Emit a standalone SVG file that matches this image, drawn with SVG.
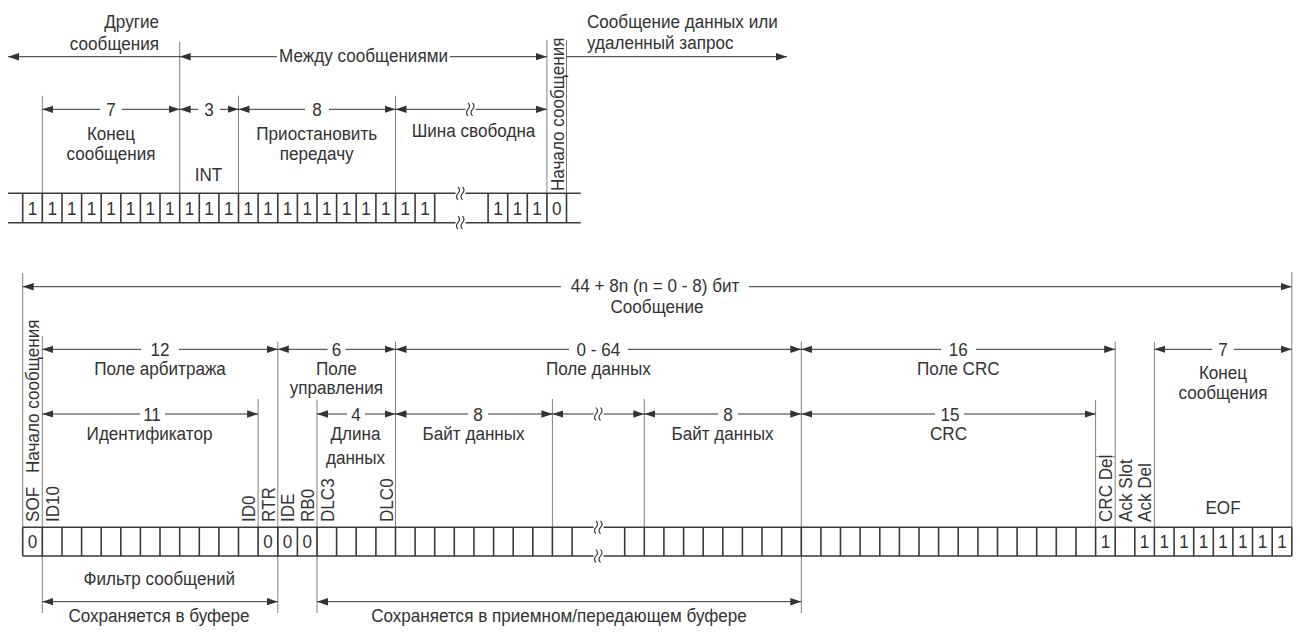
<svg xmlns="http://www.w3.org/2000/svg" width="1300" height="632" viewBox="0 0 1300 632">
<defs>
<style>
text{font-family:"Liberation Sans",Arial,Helvetica,sans-serif;font-size:19px;fill:#333}
.m{text-anchor:middle}
.e{text-anchor:end}
.g{stroke:#808080;stroke-width:1;fill:none}
.a{stroke:#333;stroke-width:1;fill:none;marker-end:url(#ah)}
.b{stroke:#333;stroke-width:1;fill:none;marker-start:url(#ah)}
.ab{stroke:#333;stroke-width:1;fill:none;marker-start:url(#ah);marker-end:url(#ah)}
.row{stroke:#3a3a3a;stroke-width:1.6;fill:none}
.sqs{stroke:#333;stroke-width:1.1;fill:none}
</style>
<marker id="ah" viewBox="0 0 11 8" refX="11" refY="4" markerWidth="11" markerHeight="8" markerUnits="userSpaceOnUse" orient="auto-start-reverse"><path d="M0,0.3L11,4L0,7.7z" fill="#333"/></marker>
<g id="sq"><rect x="-4.5" y="-2" width="10" height="4" fill="#fff"/><path class="sqs" d="M-2,-6.5q3,3.25 0,6.5q-3,3.25 0,6.5M2.5,-6.5q3,3.25 0,6.5q-3,3.25 0,6.5"/></g>
</defs>
<rect width="1300" height="632" fill="#fff"/>

<g id="guides">
<path class="g" d="M42.3,95.7V193.3M179.7,41.7V193.3M238.5,95.7V193.3M395.5,95.7V193.3M546.9,40V193.3M566.5,40V193.3"/>
<path class="g" d="M22.7,273V527.3M42.3,336V613M258.1,399V527.3M277.8,341.7V613M317,400V613M395.5,341.7V527.3M552.4,399V527.3M644.3,399V527.3M801.3,341.7V613M1095.6,400V527.3M1115.2,341.7V527.3M1154.4,341.7V527.3M1291.8,272V527.3M1095.6,456.7H1115.2"/>
</g>

<g id="connectors">
<path class="b" d="M8,56.7H179.7"/>
<path class="b" d="M179.7,56.7H277"/>
<path class="a" d="M450,56.7H546.9"/>
<path class="a" d="M566.5,56.7H787"/>
<path class="b" d="M42.3,109.3H100"/><path class="a" d="M122,109.3H179.7"/>
<path class="b" d="M179.7,109.3H198"/><path class="a" d="M220,109.3H238.5"/>
<path class="b" d="M238.5,109.3H305"/><path class="a" d="M329,109.3H395.5"/>
<path class="ab" d="M395.5,109.3H546.9"/>
<use href="#sq" x="470" y="109.3"/>

<path class="b" d="M22.7,286.7H561"/><path class="a" d="M749,286.7H1291.8"/>
<path class="b" d="M42.3,349.3H141"/><path class="a" d="M179,349.3H277.8"/>
<path class="b" d="M277.8,349.3H327.6"/><path class="a" d="M345.6,349.3H395.5"/>
<path class="b" d="M395.5,349.3H569"/><path class="a" d="M628,349.3H801.3"/>
<path class="b" d="M801.3,349.3H941"/><path class="a" d="M976,349.3H1115.2"/>
<path class="b" d="M1154.4,349.3H1212"/><path class="a" d="M1234,349.3H1291.8"/>
<path class="b" d="M42.3,414H140"/><path class="a" d="M165,414H258.1"/>
<path class="b" d="M317,414H347"/><path class="a" d="M365,414H395.5"/>
<path class="b" d="M395.5,414H468"/><path class="a" d="M488,414H552.4"/>
<path class="ab" d="M552.4,414H644.3"/>
<use href="#sq" x="598" y="414"/>
<path class="b" d="M644.3,414H718"/><path class="a" d="M738,414H801.3"/>
<path class="b" d="M801.3,414H935"/><path class="a" d="M964,414H1095.6"/>
<path class="ab" d="M42.3,601.7H277.8"/>
<path class="ab" d="M317,601.7H801.3"/>
</g>

<g id="top-row">
<path class="row" d="M8,193.3H580.7M8,222.7H580.7"/>
<path class="row" d="M22.7,193.3V222.7M42.3,193.3V222.7M62,193.3V222.7M81.6,193.3V222.7M101.2,193.3V222.7M120.8,193.3V222.7M140.4,193.3V222.7M160,193.3V222.7M179.7,193.3V222.7M199.3,193.3V222.7M218.9,193.3V222.7M238.5,193.3V222.7M258.1,193.3V222.7M277.8,193.3V222.7M297.4,193.3V222.7M317,193.3V222.7M336.6,193.3V222.7M356.2,193.3V222.7M375.9,193.3V222.7M395.5,193.3V222.7M415.1,193.3V222.7M434.7,193.3V222.7M488.1,193.3V222.7M507.7,193.3V222.7M527.3,193.3V222.7M546.9,193.3V222.7M566.5,193.3V222.7"/>
<use href="#sq" x="460" y="193.3"/>
<use href="#sq" x="460" y="222.7"/>
<g class="m">
<text transform="translate(32.5,215) scale(.9 1)">1</text>
<text transform="translate(52.2,215) scale(.9 1)">1</text>
<text transform="translate(71.8,215) scale(.9 1)">1</text>
<text transform="translate(91.4,215) scale(.9 1)">1</text>
<text transform="translate(111,215) scale(.9 1)">1</text>
<text transform="translate(130.6,215) scale(.9 1)">1</text>
<text transform="translate(150.2,215) scale(.9 1)">1</text>
<text transform="translate(169.8,215) scale(.9 1)">1</text>
<text transform="translate(189.5,215) scale(.9 1)">1</text>
<text transform="translate(209.1,215) scale(.9 1)">1</text>
<text transform="translate(228.7,215) scale(.9 1)">1</text>
<text transform="translate(248.3,215) scale(.9 1)">1</text>
<text transform="translate(267.9,215) scale(.9 1)">1</text>
<text transform="translate(287.6,215) scale(.9 1)">1</text>
<text transform="translate(307.2,215) scale(.9 1)">1</text>
<text transform="translate(326.8,215) scale(.9 1)">1</text>
<text transform="translate(346.4,215) scale(.9 1)">1</text>
<text transform="translate(366,215) scale(.9 1)">1</text>
<text transform="translate(385.7,215) scale(.9 1)">1</text>
<text transform="translate(405.3,215) scale(.9 1)">1</text>
<text transform="translate(424.9,215) scale(.9 1)">1</text>
<text transform="translate(497.9,215) scale(.9 1)">1</text>
<text transform="translate(517.5,215) scale(.9 1)">1</text>
<text transform="translate(537.1,215) scale(.9 1)">1</text>
<text transform="translate(556.7,215) scale(.9 1)">0</text>
</g>
</g>

<g id="top-other-messages">
<text class="e" transform="translate(159,28) scale(.9 1)">Другие</text>
<text class="e" transform="translate(159,50) scale(.9 1)">сообщения</text>
</g>
<g id="top-between-messages">
<text class="m" transform="translate(363.5,62) scale(.9 1)">Между сообщениями</text>
</g>
<g id="top-data-or-remote">
<text transform="translate(587,28) scale(.9 1)">Сообщение данных или</text>
<text transform="translate(587,49) scale(.9 1)">удаленный запрос</text>
</g>
<g id="top-eof">
<text class="m" transform="translate(111,116) scale(.9 1)">7</text>
<text class="m" transform="translate(111,140) scale(.9 1)">Конец</text>
<text class="m" transform="translate(111,160) scale(.9 1)">сообщения</text>
</g>
<g id="top-int">
<text class="m" transform="translate(209,116) scale(.9 1)">3</text>
<text class="m" transform="translate(208.5,181) scale(.9 1)">INT</text>
</g>
<g id="top-suspend">
<text class="m" transform="translate(317,116) scale(.9 1)">8</text>
<text class="m" transform="translate(316.7,140) scale(.9 1)">Приостановить</text>
<text class="m" transform="translate(316.7,160) scale(.9 1)">передачу</text>
</g>
<g id="top-bus-idle">
<text class="m" transform="translate(473.5,137) scale(.9 1)">Шина свободна</text>
</g>
<g id="top-sof">
<text transform="translate(563.5,191) rotate(-90) scale(.9 1)">Начало сообщения</text>
</g>

<g id="message">
<text class="m" transform="translate(655,292) scale(.9 1)">44 + 8n (n = 0 - 8) бит</text>
<text class="m" transform="translate(657,313) scale(.9 1)">Сообщение</text>
</g>
<g id="sof">
<text transform="translate(39.3,473) rotate(-90) scale(.9 1)">Начало сообщения</text>
<text transform="translate(39.3,522) rotate(-90) scale(.9 1)">SOF</text>
</g>
<g id="arbitration">
<text class="m" transform="translate(160,356) scale(.9 1)">12</text>
<text class="m" transform="translate(160,375) scale(.9 1)">Поле арбитража</text>
</g>
<g id="identifier">
<text class="m" transform="translate(152,421) scale(.9 1)">11</text>
<text class="m" transform="translate(149.5,440) scale(.9 1)">Идентификатор</text>
<text transform="translate(59,522) rotate(-90) scale(.9 1)">ID10</text>
<text transform="translate(255.1,522) rotate(-90) scale(.9 1)">ID0</text>
<text transform="translate(274.7,522) rotate(-90) scale(.9 1)">RTR</text>
</g>
<g id="control">
<text class="m" transform="translate(336.6,356) scale(.9 1)">6</text>
<text class="m" transform="translate(336.4,375) scale(.9 1)">Поле</text>
<text class="m" transform="translate(336.4,394) scale(.9 1)">управления</text>
<text transform="translate(294.4,522) rotate(-90) scale(.9 1)">IDE</text>
<text transform="translate(314,522) rotate(-90) scale(.9 1)">RB0</text>
</g>
<g id="dlc">
<text class="m" transform="translate(356,421) scale(.9 1)">4</text>
<text class="m" transform="translate(355.5,440) scale(.9 1)">Длина</text>
<text class="m" transform="translate(355.5,464) scale(.9 1)">данных</text>
<text transform="translate(333.6,522) rotate(-90) scale(.9 1)">DLC3</text>
<text transform="translate(392.5,522) rotate(-90) scale(.9 1)">DLC0</text>
</g>
<g id="data-field">
<text class="m" transform="translate(598.4,356) scale(.9 1)">0 - 64</text>
<text class="m" transform="translate(598.3,375) scale(.9 1)">Поле данных</text>
</g>
<g id="data-byte-1">
<text class="m" transform="translate(478,421) scale(.9 1)">8</text>
<text class="m" transform="translate(473.6,440) scale(.9 1)">Байт данных</text>
</g>
<g id="data-byte-n">
<text class="m" transform="translate(728,421) scale(.9 1)">8</text>
<text class="m" transform="translate(722.5,440) scale(.9 1)">Байт данных</text>
</g>
<g id="crc-field">
<text class="m" transform="translate(958.3,356) scale(.9 1)">16</text>
<text class="m" transform="translate(958.3,375) scale(.9 1)">Поле CRC</text>
</g>
<g id="crc">
<text class="m" transform="translate(950,421) scale(.9 1)">15</text>
<text class="m" transform="translate(948.5,440) scale(.9 1)">CRC</text>
<text transform="translate(1112.2,522) rotate(-90) scale(.9 1)">CRC Del</text>
</g>
<g id="ack">
<text transform="translate(1131.8,522) rotate(-90) scale(.9 1)">Ack Slot</text>
<text transform="translate(1151.4,522) rotate(-90) scale(.9 1)">Ack Del</text>
</g>
<g id="eof">
<text class="m" transform="translate(1223,356) scale(.9 1)">7</text>
<text class="m" transform="translate(1223,379) scale(.9 1)">Конец</text>
<text class="m" transform="translate(1223,399) scale(.9 1)">сообщения</text>
<text class="m" transform="translate(1223,514) scale(.9 1)">EOF</text>
</g>

<g id="bottom-row">
<path class="row" d="M22.7,527.3H1291.8M22.7,556H1291.8"/>
<path class="row" d="M22.7,527.3V556M42.3,527.3V556M62,527.3V556M81.6,527.3V556M101.2,527.3V556M120.8,527.3V556M140.4,527.3V556M160,527.3V556M179.7,527.3V556M199.3,527.3V556M218.9,527.3V556M238.5,527.3V556M258.1,527.3V556M277.8,527.3V556M297.4,527.3V556M317,527.3V556M336.6,527.3V556M356.2,527.3V556M375.9,527.3V556M395.5,527.3V556M415.1,527.3V556M434.7,527.3V556M454.3,527.3V556M473.9,527.3V556M493.6,527.3V556M513.2,527.3V556M532.8,527.3V556M552.4,527.3V556M572.1,527.3V556M624.7,527.3V556M644.3,527.3V556M663.9,527.3V556M683.6,527.3V556M703.2,527.3V556M722.8,527.3V556M742.4,527.3V556M762,527.3V556M781.7,527.3V556M801.3,527.3V556M820.9,527.3V556M840.5,527.3V556M860.1,527.3V556M879.8,527.3V556M899.4,527.3V556M919,527.3V556M938.6,527.3V556M958.2,527.3V556M977.9,527.3V556M997.5,527.3V556M1017.1,527.3V556M1036.7,527.3V556M1056.3,527.3V556M1076,527.3V556M1095.6,527.3V556M1115.2,527.3V556M1134.8,527.3V556M1154.4,527.3V556M1174.1,527.3V556M1193.7,527.3V556M1213.3,527.3V556M1232.9,527.3V556M1252.5,527.3V556M1272.2,527.3V556M1291.8,527.3V556"/>
<use href="#sq" x="598" y="527.3"/>
<use href="#sq" x="598" y="556"/>
<g class="m">
<text transform="translate(32.5,548) scale(.9 1)">0</text>
<text transform="translate(267.9,548) scale(.9 1)">0</text>
<text transform="translate(287.6,548) scale(.9 1)">0</text>
<text transform="translate(307.2,548) scale(.9 1)">0</text>
<text transform="translate(1105.4,548) scale(.9 1)">1</text>
<text transform="translate(1144.6,548) scale(.9 1)">1</text>
<text transform="translate(1164.3,548) scale(.9 1)">1</text>
<text transform="translate(1183.9,548) scale(.9 1)">1</text>
<text transform="translate(1203.5,548) scale(.9 1)">1</text>
<text transform="translate(1223.1,548) scale(.9 1)">1</text>
<text transform="translate(1242.7,548) scale(.9 1)">1</text>
<text transform="translate(1262.4,548) scale(.9 1)">1</text>
<text transform="translate(1282,548) scale(.9 1)">1</text>
</g>
</g>

<g id="filter">
<text class="m" transform="translate(159.2,585) scale(.9 1)">Фильтр сообщений</text>
<text class="m" transform="translate(159,622) scale(.9 1)">Сохраняется в буфере</text>
</g>
<g id="rx-tx-buffer">
<text class="m" transform="translate(559,622) scale(.9 1)">Сохраняется в приемном/передающем буфере</text>
</g>
</svg>
